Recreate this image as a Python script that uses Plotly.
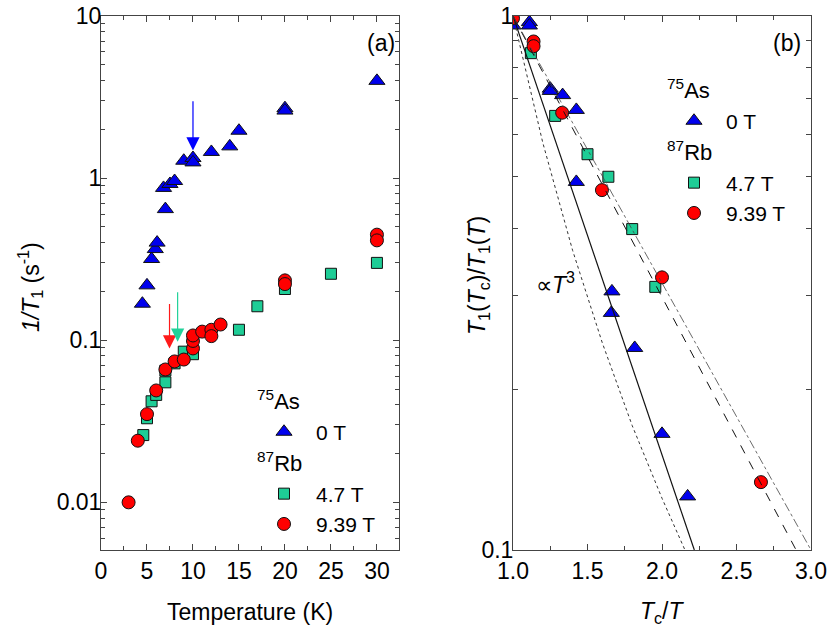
import math
import plotly.graph_objects as go
from plotly.subplots import make_subplots

# ---------------------------- data: panel (a) ----------------------------
# 75As, 0 T
t_as = [4.5, 5.0, 5.5, 5.9, 6.1, 6.8, 7.0, 7.5, 8.0, 9.0, 10.0, 10.0, 12.0, 14.0, 15.0, 20.0, 20.0, 30.0]
r_as = [0.168, 0.218, 0.317, 0.365, 0.40, 0.87, 0.644, 0.92, 0.96, 1.28, 1.33, 1.25, 1.45, 1.57, 1.96, 2.70, 2.61, 3.98]
# 87Rb, 4.7 T
t_rb47 = [4.6, 5.0, 5.5, 6.0, 7.0, 7.0, 8.0, 9.0, 10.0, 15.0, 17.0, 20.0, 25.0, 30.0]
r_rb47 = [0.026, 0.033, 0.042, 0.046, 0.055, 0.065, 0.072, 0.085, 0.082, 0.116, 0.162, 0.207, 0.257, 0.30]
# 87Rb, 9.39 T
t_rb939 = [3.0, 4.0, 5.0, 6.0, 7.0, 8.0, 9.0, 10.0, 10.0, 10.0, 11.0, 12.0, 12.0, 13.0, 20.0, 20.0, 30.0, 30.0]
r_rb939 = [0.010, 0.024, 0.035, 0.049, 0.066, 0.074, 0.076, 0.089, 0.099, 0.107, 0.113, 0.116, 0.106, 0.125,
           0.234, 0.222, 0.448, 0.413]

# Tc arrows (x, tail y, tip y)
arrow_x = [10.0, 7.45, 8.33]
arrow_tail = [3.04, 0.171, 0.202]
arrow_tip = [1.48, 0.089, 0.098]
arrow_col = ['#0000ff', '#ff1a1a', '#22d29a']

# ---------------------------- data: panel (b) ----------------------------
x_as_b = [1.0, 1.11, 1.11, 1.25, 1.25, 1.333, 1.425, 1.425, 1.664, 1.66, 1.817, 2.0, 2.172]
y_as_b = [0.96, 0.974, 0.96, 0.731, 0.724, 0.711, 0.667, 0.489, 0.305, 0.278, 0.239, 0.165, 0.126]
x_rb47_b = [1.12, 1.283, 1.50, 1.64, 1.80, 1.955]
y_rb47_b = [0.852, 0.650, 0.551, 0.500, 0.399, 0.311]
x_rb939_b = [1.0, 1.138, 1.138, 1.33, 1.597, 2.0, 2.664]
y_rb939_b = [0.99, 0.896, 0.878, 0.659, 0.472, 0.324, 0.134]

# fit lines
fit_solid_x = [1.0, 2.217]
fit_solid_y = [1.0, 0.1]
fit_dash_x = [1.0, 2.90]
fit_dash_y = [1.0, 0.1]
fit_dashdot_x = [1.0, 3.0]
fit_dashdot_y = [1.0, 0.1]
# T^3 guide
t3_x = [1.0, 1.2, 1.4, 1.6, 1.8, 2.0, 2.154]
t3_y = [1.0, 0.579, 0.364, 0.244, 0.171, 0.125, 0.100]

FONT = "Liberation Sans, Arial, sans-serif"
FS = 23
BLUE, GREEN, RED = '#0000ee', '#1ecd96', '#ff0000'

W, H = 830, 634


def px(x):
    return x / W


def py(y):
    return 1 - y / H


fig = make_subplots(rows=1, cols=2)

series = [
    (t_as, r_as, 'triangle-up', 14, BLUE, '0 T', 'as', '<sup>75</sup>As'),
    (t_rb47, r_rb47, 'square', 11, GREEN, '4.7 T', 'rb', '<sup>87</sup>Rb'),
    (t_rb939, r_rb939, 'circle', 13, RED, '9.39 T', 'rb', None),
]
series_b = [(x_as_b, y_as_b), (x_rb47_b, y_rb47_b), (x_rb939_b, y_rb939_b)]

for (x, y, sym, size, col, name, grp, gtitle), (xb, yb) in zip(series, series_b):
    mk = dict(symbol=sym, size=size, color=col, line=dict(color='#111', width=1))
    fig.add_trace(go.Scatter(x=x, y=y, mode='markers', marker=mk, name=name,
                             legendgroup=grp, legendgrouptitle_text=gtitle, legend='legend'),
                  row=1, col=1)
    fig.add_trace(go.Scatter(x=xb, y=yb, mode='markers', marker=mk, name=name,
                             legendgroup=grp + 'b', legendgrouptitle_text=gtitle, legend='legend2'),
                  row=1, col=2)

for lx, ly, dash, w, c in [(fit_solid_x, fit_solid_y, 'solid', 1.2, '#111'),
                           (fit_dash_x, fit_dash_y, 'dash', 1.0, '#111'),
                           (fit_dashdot_x, fit_dashdot_y, 'dashdot', 0.8, '#444'),
                           (t3_x, t3_y, 'dot', 1.0, '#333')]:
    fig.add_trace(go.Scatter(x=lx, y=ly, mode='lines', line=dict(color=c, width=w, dash=dash),
                             showlegend=False), row=1, col=2)

# arrows marking Tc
for ax_, tail, tip, c in zip(arrow_x, arrow_tail, arrow_tip, arrow_col):
    fig.add_annotation(x=ax_, y=math.log10(tip), ax=ax_, ay=math.log10(tail), xref='x', yref='y',
                       axref='x', ayref='y', showarrow=True, arrowhead=2, arrowsize=2.2,
                       arrowwidth=1.2, arrowcolor=c, text='')

axis_common = dict(showline=True, linecolor='#444', linewidth=1, mirror='allticks', ticks='inside',
                   ticklen=6, tickcolor='#444', showgrid=False, zeroline=False, automargin=False,
                   ticklabeloverflow='allow',
                   tickfont=dict(family=FONT, size=FS, color='black'))

minor_a = [m * 10 ** e for e in range(-3, 1) for m in range(2, 10)]
ydom = [py(550), py(16)]
fig.update_xaxes(domain=[px(101), px(399)], range=[0, 32.4], dtick=5, tick0=0,
                 minor=dict(ticks='inside', ticklen=4, dtick=2.5, tickcolor='#444'),
                 **axis_common, row=1, col=1)
fig.update_yaxes(domain=ydom, type='log', range=[-2.294, 1], ticklabelstandoff=-6,
                 tickvals=[0.01, 0.1, 1, 10], ticktext=['0.01', '0.1', '1', '10'],
                 minor=dict(ticks='inside', ticklen=4, tickvals=minor_a, tickcolor='#444'),
                 **axis_common, row=1, col=1)
fig.update_xaxes(domain=[px(513), px(811)], range=[1, 3], dtick=0.5, tick0=1, tickformat='.1f',
                 minor=dict(ticks='inside', ticklen=4, dtick=0.25, tickcolor='#444'),
                 **axis_common, row=1, col=2)
fig.update_yaxes(domain=ydom, type='log', range=[-1, 0], ticklabelstandoff=-6,
                 tickvals=[0.1, 1], ticktext=['0.1', '1'],
                 minor=dict(ticks='inside', ticklen=5, tickvals=[0.2, 0.3, 0.4, 0.5, 0.6, 0.7, 0.8, 0.9],
                            tickcolor='#444'),
                 **axis_common, row=1, col=2)

txt = dict(family=FONT, size=FS, color='black')
labels = [
    ("Temperature (K)", 250, 612, 0),
    ("<i>T</i><sub>c</sub>/<i>T</i>", 662, 612, 0),
    ("<i>1/T</i><sub>1</sub> (s<sup>-1</sup>)", 30, 287, -90),
    ("<i>T</i><sub>1</sub>(<i>T</i><sub>c</sub>)/<i>T</i><sub>1</sub>(<i>T</i>)", 478, 276, -90),
    ("(a)", 381, 43, 0),
    ("(b)", 787, 43, 0),
    ("\u221d<i>T</i><sup>3</sup>", 555, 283, 0),
]
for t, x0, y0, ang in labels:
    fig.add_annotation(text=t, x=px(x0), y=py(y0), xref='paper', yref='paper',
                       showarrow=False, textangle=ang, font=txt, xanchor='center', yanchor='middle')

leg_font = dict(family=FONT, size=21, color='black')
leg = dict(font=leg_font, grouptitlefont=dict(family=FONT, size=22, color='black'),
           bgcolor='rgba(0,0,0,0)', borderwidth=0, itemwidth=54,
           xanchor='left', yanchor='top', tracegroupgap=0, traceorder='grouped', itemsizing='trace')
fig.update_layout(
    width=W, height=H, margin=dict(l=0, r=0, t=0, b=0),
    paper_bgcolor='white', plot_bgcolor='white',
    font=dict(family=FONT, size=FS, color='black'),
    legend=dict(x=px(252), y=py(380), **leg),
    legend2=dict(x=px(662), y=py(69), **leg),
)

# drop the browser's default 8px body margin so the figure fills the window
fig.write_html("out.html", config={'displayModeBar': False},
               post_script="document.body.style.margin='0px';")
